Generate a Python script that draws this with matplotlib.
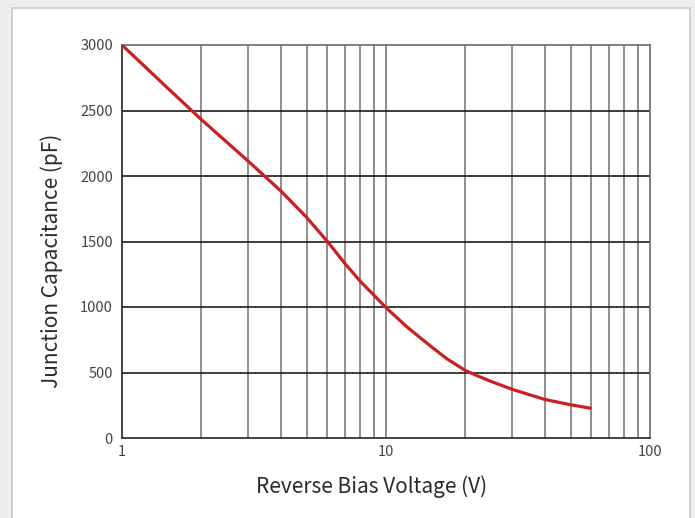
import numpy as np
import matplotlib
matplotlib.use("Agg")
import matplotlib.pyplot as plt
from matplotlib.patches import Rectangle
from matplotlib.ticker import FixedLocator, NullFormatter

plt.rcParams['font.family'] = ['Noto Sans CJK SC', 'DejaVu Sans']

# Reverse bias voltage (V) vs junction capacitance (pF)
voltage = [1, 1.5, 2, 3, 4, 5, 6, 7, 8, 9, 10, 12, 15, 17, 20, 22, 25, 30, 40, 50, 60]
capacitance = [3000, 2665, 2430, 2115, 1885, 1685, 1500, 1330, 1195, 1090,
               995, 848, 690, 605, 515, 478, 432, 372, 294, 254, 226]

x_ticks = [1, 10, 100]
x_ticklabels = ["1", "10", "100"]
y_ticks = [0, 500, 1000, 1500, 2000, 2500, 3000]

W, H = 695, 518
fig = plt.figure(figsize=(W / 100, H / 100), dpi=100, facecolor="#eeeeee")

# white card behind the chart
fig.patches.append(Rectangle((12 / W, -0.01), 678 / W, 510 / H + 0.01, transform=fig.transFigure,
                             facecolor="white", edgecolor="#c8c8c8", linewidth=1.2, zorder=-1))

ax = fig.add_axes([122 / W, 1 - 438 / H, 528 / W, 393 / H])
ax.set_zorder(2)
ax.set_facecolor("none")
ax.set_xscale("log")
ax.set_xlim(1, 100)
ax.set_ylim(0, 3000)

# log grid: vertical lines at every integer step of each decade
minor = [m * d for d in (1, 10) for m in range(2, 10)]
ax.xaxis.set_major_locator(FixedLocator(x_ticks))
ax.xaxis.set_minor_locator(FixedLocator(minor))
ax.xaxis.set_minor_formatter(NullFormatter())
ax.set_xticks(x_ticks, x_ticklabels)
ax.set_yticks(y_ticks)

for v in minor + [10]:
    ax.axvline(v, color="#7f7a7a", linewidth=1.2, zorder=1)
for c in y_ticks[1:-1]:
    ax.axhline(c, color="#1e1a1a", linewidth=1.2, zorder=1)

for side in ("top", "right"):
    ax.spines[side].set_color("#6e6868")
    ax.spines[side].set_linewidth(1.2)
for side in ("left", "bottom"):
    ax.spines[side].set_color("#2a2222")
    ax.spines[side].set_linewidth(1.2)

ax.tick_params(axis="both", which="both", length=0, labelsize=10.5, labelcolor="#444444")
ax.tick_params(axis="y", pad=6.5)
ax.tick_params(axis="x", pad=5)

ax.plot(voltage, capacitance, color="#cc1f1f", linewidth=2.3, zorder=3,
        solid_capstyle="butt", solid_joinstyle="round")

ax.set_xlabel("Reverse Bias Voltage (V)", fontsize=15, color="#2a2a2a", va="center")
ax.xaxis.set_label_coords(0.4735, -0.1247)
ax.set_ylabel("Junction Capacitance (pF)", fontsize=15, color="#2a2a2a", va="center")
ax.yaxis.set_label_coords(-0.133, 0.45)

fig.savefig("out.png", dpi=100, facecolor=fig.get_facecolor())
